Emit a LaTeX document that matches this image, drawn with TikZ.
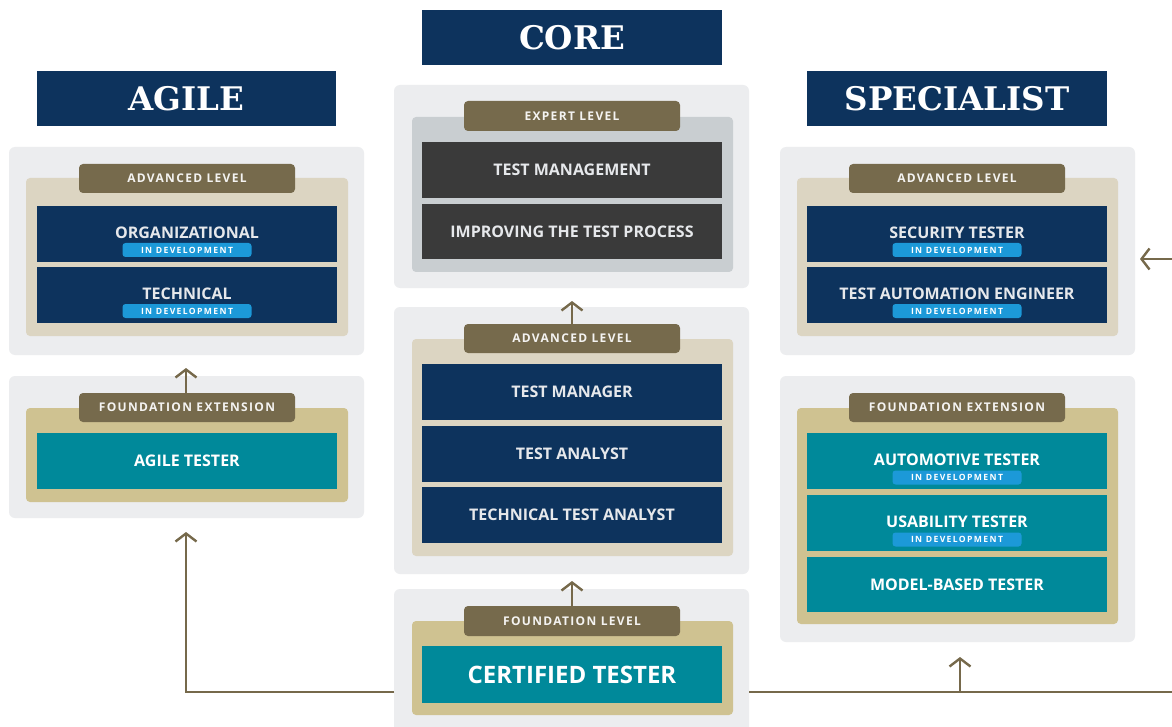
\documentclass[tikz,border=0pt]{standalone}
\usepackage{fontspec}
\usetikzlibrary{arrows.meta}
\newfontfamily\osf{Open Sans}
\newfontfamily\osls{Open Sans}[LetterSpace=16]
\newfontfamily\ostab{Open Sans}[LetterSpace=11]
\newfontfamily\hdf{DejaVu Serif}
\definecolor{navyc}{HTML}{0D335D}
\definecolor{tealc}{HTML}{00899A}
\definecolor{darkc}{HTML}{3A3A3A}
\definecolor{panelg}{HTML}{ECEDEF}
\definecolor{tanA}{HTML}{DCD5C2}
\definecolor{tanF}{HTML}{CFC291}
\definecolor{tabc}{HTML}{766A4C}
\definecolor{expg}{HTML}{C9CED1}
\definecolor{pillc}{HTML}{1C99D8}
\definecolor{arrowc}{HTML}{76694B}
\definecolor{txtw}{HTML}{E6E8EB}
\tikzset{
  base/.style={inner sep=0pt, outer sep=0pt, draw=none},
  hdrbox/.style={base, fill=navyc, text=white, font=\hdf\bfseries\fontsize{32.5}{32.5}\selectfont},
  panel/.style={base, fill=panelg, rounded corners=6pt},
  tanbox/.style={base, rounded corners=4pt},
  tabbox/.style={base, fill=tabc, rounded corners=4pt, text=white!92!tabc, font=\ostab\bfseries\fontsize{12}{12}\selectfont},
  navybox/.style={base, fill=navyc},
  tealbox/.style={base, fill=tealc},
  darkbox/.style={base, fill=darkc},
  title/.style={base, text=txtw, font=\osf\bfseries\fontsize{16}{16}\selectfont},
  wtitle/.style={base, text=white, font=\osf\bfseries\fontsize{16}{16}\selectfont},
  pill/.style={base, fill=pillc, rounded corners=3pt, minimum width=129pt, minimum height=14pt, text=white, font=\osls\bfseries\fontsize{8.6}{8.6}\selectfont},
  conn/.style={draw=arrowc, line width=2.4pt},
  tipc/.style={-{Straight Barb[length=8pt,width=21pt,line width=2.4pt]}}
}
\newcommand\bx[7]{\node[#1, minimum width={#4-#2}, minimum height={#5-#3}] (#6) at ({(#2+#4)/2},{(#3+#5)/2}) {#7};}
\begin{document}
\begin{tikzpicture}[x=1pt,y=-1pt]
\useasboundingbox (0,0) rectangle (1172,727);
\fill[white] (0,0) rectangle (1172,727);
\clip (0,0) rectangle (1172,727);

% ---------------- headers
\bx{hdrbox}{37}{71}{336}{126}{hAg}{AGILE}
\bx{hdrbox}{422}{10}{722}{65}{hCo}{CORE}
\bx{hdrbox}{807}{71}{1107}{126}{hSp}{SPECIALIST}

% ---------------- AGILE advanced
\bx{panel}{9}{147}{364}{355}{aAP}{}
\bx{tanbox, fill=tanA}{26}{178}{348}{336}{aAT}{}
\bx{tabbox}{79}{164}{295}{193}{aATab}{ADVANCED LEVEL}
\bx{navybox}{37}{206}{337}{262}{aOrg}{}
\node[title] (aOrgT) at ([yshift=1.5pt]aOrg.center) {ORGANIZATIONAL};
\node[pill] (aOrgP) at ([yshift=-16pt]aOrg.center) {IN DEVELOPMENT};
\bx{navybox}{37}{267}{337}{323}{aTec}{}
\node[title] (aTecT) at ([yshift=1.5pt]aTec.center) {TECHNICAL};
\node[pill] (aTecP) at ([yshift=-16pt]aTec.center) {IN DEVELOPMENT};

% ---------------- AGILE foundation extension
\bx{panel}{9}{376}{364}{518}{aFP}{}
\bx{tanbox, fill=tanF}{26}{408}{348}{502}{aFT}{}
\bx{tabbox}{79}{393}{295}{422}{aFTab}{FOUNDATION EXTENSION}
\bx{tealbox}{37}{433}{337}{489}{aAgT}{}
\node[wtitle] (aAgTT) at (aAgT.center) {AGILE TESTER};

% ---------------- CORE expert
\bx{panel}{394}{85}{749}{288}{cEP}{}
\bx{tanbox, fill=expg}{412}{117}{733}{272}{cET}{}
\bx{tabbox}{464}{101}{680}{131}{cETab}{EXPERT LEVEL}
\bx{darkbox}{422}{142}{722}{198}{cTM}{}
\node[title] (cTMT) at (cTM.center) {TEST MANAGEMENT};
\bx{darkbox}{422}{204}{722}{259}{cITP}{}
\node[title] (cITPT) at (cITP.center) {IMPROVING THE TEST PROCESS};

% ---------------- CORE advanced
\bx{panel}{394}{307}{749}{574}{cAP}{}
\bx{tanbox, fill=tanA}{412}{339}{733}{556}{cAT}{}
\bx{tabbox}{464}{324}{680}{353}{cATab}{ADVANCED LEVEL}
\bx{navybox}{422}{364}{722}{420}{cMgr}{}
\node[title] (cMgrT) at (cMgr.center) {TEST MANAGER};
\bx{navybox}{422}{426}{722}{482}{cAn}{}
\node[title] (cAnT) at (cAn.center) {TEST ANALYST};
\bx{navybox}{422}{487}{722}{543}{cTAn}{}
\node[title] (cTAnT) at (cTAn.center) {TECHNICAL TEST ANALYST};

% ---------------- CORE foundation
\bx{panel}{394}{589}{749}{740}{cFP}{}
\bx{tanbox, fill=tanF}{412}{621}{733}{715}{cFT}{}
\bx{tabbox}{464}{606}{680}{636}{cFTab}{FOUNDATION LEVEL}
\bx{tealbox}{422}{646}{722}{703}{cCT}{}
\node[wtitle, font=\osf\bfseries\fontsize{24}{24}\selectfont] (cCTT) at (cCT.center) {CERTIFIED TESTER};

% ---------------- SPECIALIST advanced
\bx{panel}{780}{147}{1135}{355}{sAP}{}
\bx{tanbox, fill=tanA}{797}{178}{1118}{336}{sAT}{}
\bx{tabbox}{849}{164}{1065}{193}{sATab}{ADVANCED LEVEL}
\bx{navybox}{807}{206}{1107}{262}{sSec}{}
\node[title] (sSecT) at ([yshift=1.5pt]sSec.center) {SECURITY TESTER};
\node[pill] (sSecP) at ([yshift=-16pt]sSec.center) {IN DEVELOPMENT};
\bx{navybox}{807}{267}{1107}{323}{sTAE}{}
\node[title] (sTAET) at ([yshift=1.5pt]sTAE.center) {TEST AUTOMATION ENGINEER};
\node[pill] (sTAEP) at ([yshift=-16pt]sTAE.center) {IN DEVELOPMENT};

% ---------------- SPECIALIST foundation extension
\bx{panel}{780}{376}{1135}{642}{sFP}{}
\bx{tanbox, fill=tanF}{797}{408}{1118}{624}{sFT}{}
\bx{tabbox}{849}{393}{1065}{422}{sFTab}{FOUNDATION EXTENSION}
\bx{tealbox}{807}{433}{1107}{489}{sAut}{}
\node[wtitle] (sAutT) at ([yshift=1.5pt]sAut.center) {AUTOMOTIVE TESTER};
\node[pill] (sAutP) at ([yshift=-16.5pt]sAut.center) {IN DEVELOPMENT};
\bx{tealbox}{807}{495}{1107}{551}{sUsa}{}
\node[wtitle] (sUsaT) at ([yshift=1.5pt]sUsa.center) {USABILITY TESTER};
\node[pill] (sUsaP) at ([yshift=-16.5pt]sUsa.center) {IN DEVELOPMENT};
\bx{tealbox}{807}{557}{1107}{612}{sMBT}{}
\node[wtitle] (sMBTT) at (sMBT.center) {MODEL-BASED TESTER};

% ---------------- connectors
\coordinate (tipAg) at (186,368);
\coordinate (tipCA) at (572,301);
\coordinate (tipCF) at (572,581);
\coordinate (lineY) at (0,692);
\coordinate (tipAF) at (186,532);
\coordinate (tipSF) at (960,657);
\coordinate (offR) at (1200,692);
\coordinate (offR2) at (1200,259);
\coordinate (tipSA) at (1140,259);

\draw[conn, tipc] (aFTab.north -| tipAg) -- (tipAg);
\draw[conn, tipc] (cATab.north) -- (tipCA);
\draw[conn, tipc] (cFTab.north) -- (tipCF);
\draw[conn, tipc] (cFP.west |- lineY) -| (tipAF);
\draw[conn] (cFP.east |- lineY) -- (offR) -- (offR2);
\draw[conn, tipc] (offR2) -- (tipSA);
\draw[conn, tipc] (tipSF |- lineY) -- (tipSF);
\end{tikzpicture}
\end{document}
